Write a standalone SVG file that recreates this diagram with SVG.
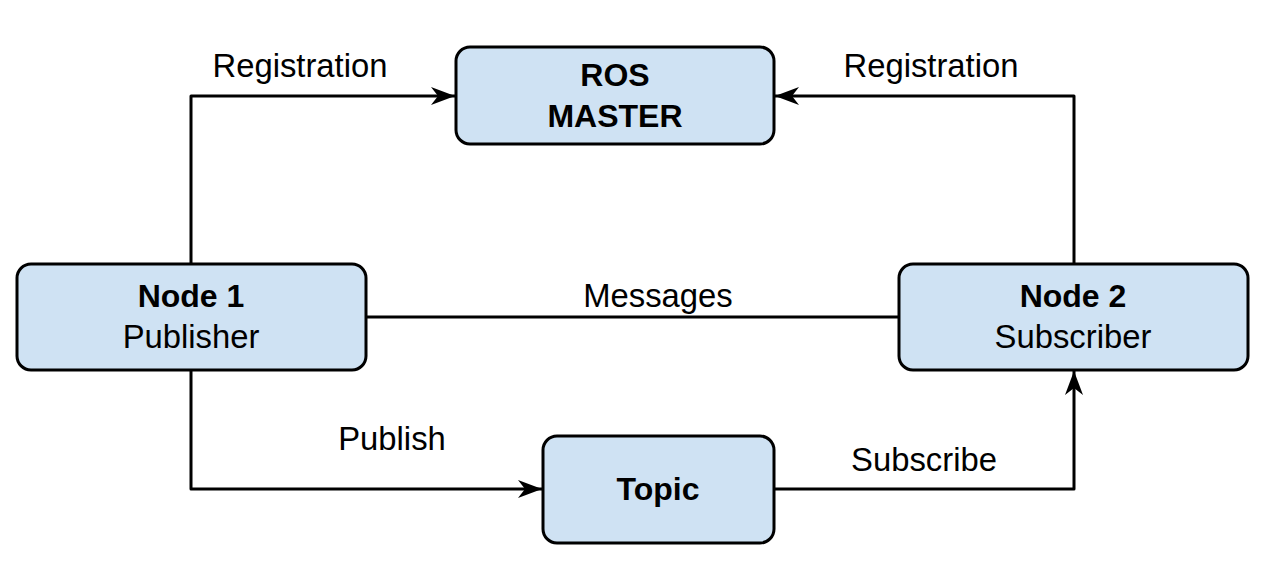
<svg xmlns="http://www.w3.org/2000/svg" width="1261" height="582" viewBox="0 0 1261 582">
<style>
.box{fill:#cfe2f3;stroke:#000;stroke-width:3}
.t{font-family:"Liberation Sans",Arial,sans-serif;font-size:32.8px;fill:#000;text-anchor:middle}
.b{font-weight:bold;font-size:32px}
.c{fill:none;stroke:#000;stroke-width:3;stroke-linejoin:round}
</style>
<defs>
<marker id="ah" markerUnits="userSpaceOnUse" markerWidth="26" markerHeight="20" refX="24" refY="10" orient="auto" viewBox="0 0 26 20">
<path d="M0,1 L24,10 L0,19 L7,10 Z" fill="#000"/>
</marker>
</defs>
<rect width="1261" height="582" fill="#fff"/>
<g id="connectors">
<path class="c" d="M191,264 V96 H455" marker-end="url(#ah)"/>
<path class="c" d="M1074,264 V96 H775" marker-end="url(#ah)"/>
<path class="c" d="M366,317 H899"/>
<path class="c" d="M191,370 V489 H542" marker-end="url(#ah)"/>
<path class="c" d="M774,489 H1074 V371" marker-end="url(#ah)"/>
<text class="t" x="300" y="77">Registration</text>
<text class="t" x="931" y="77">Registration</text>
<text class="t" x="658" y="307">Messages</text>
<text class="t" x="392" y="450">Publish</text>
<text class="t" x="924" y="471">Subscribe</text>
</g>
<g id="master">
<rect class="box" x="456" y="47" width="318" height="97" rx="14"/>
<text class="t b" x="615" y="86">ROS</text>
<text class="t b" x="615" y="127">MASTER</text>
</g>
<g id="node1">
<rect class="box" x="17" y="264" width="349" height="106" rx="14"/>
<text class="t b" x="191" y="307">Node 1</text>
<text class="t" x="191" y="348">Publisher</text>
</g>
<g id="node2">
<rect class="box" x="899" y="264" width="349" height="106" rx="14"/>
<text class="t b" x="1073" y="307">Node 2</text>
<text class="t" x="1073" y="348">Subscriber</text>
</g>
<g id="topic">
<rect class="box" x="543" y="436" width="231" height="107" rx="14"/>
<text class="t b" x="658" y="500">Topic</text>
</g>
</svg>
